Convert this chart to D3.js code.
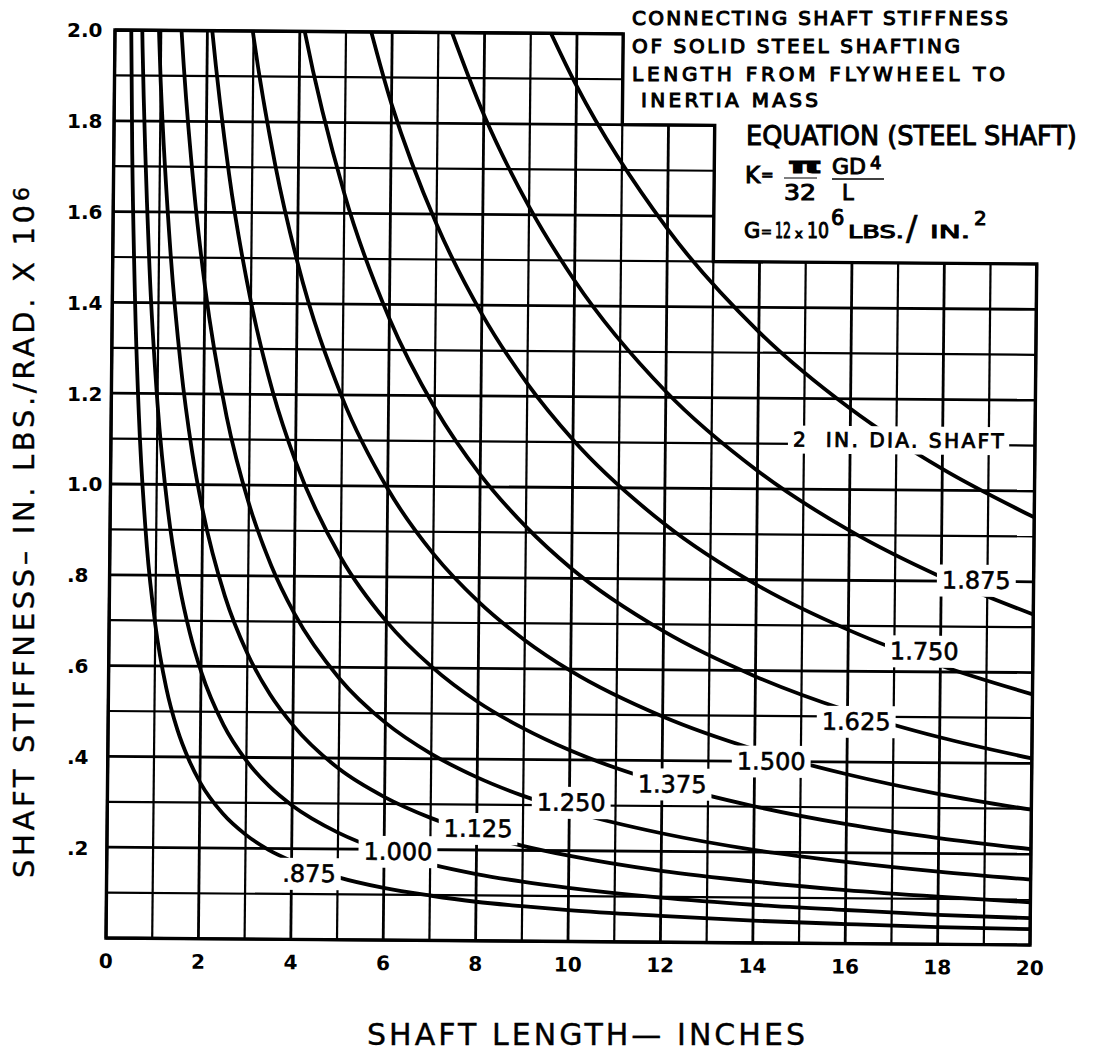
<!DOCTYPE html>
<html>
<head>
<meta charset="utf-8">
<script src="https://cdn.jsdelivr.net/npm/d3@7"></script>
<style>
body { margin:0; background:#fff; }
text { font-family:"DejaVu Sans", sans-serif; fill:#000; }
</style>
</head>
<body>
<svg></svg>
<script>
// shaft length (in.) at which the stiffness was read
var lengths = [0.3, 0.4, 0.5, 0.6, 0.8, 1, 1.25, 1.5, 1.75, 2, 2.5, 3, 3.5, 4, 5, 6, 7, 8, 9, 10, 12, 14, 16, 18, 20]

// stiffness (in.lbs./rad. x 10^6) per shaft diameter, null = off the chart
var d875  = [2.302, 1.727, 1.381, 1.151, 0.863, 0.691, 0.552, 0.460, 0.395, 0.345, 0.276, 0.230, 0.197, 0.173, 0.138, 0.115, 0.099, 0.086, 0.077, 0.069, 0.058, 0.049, 0.043, 0.038, 0.035]
var d1000 = [null, null, 2.356, 1.964, 1.473, 1.178, 0.942, 0.785, 0.673, 0.589, 0.471, 0.393, 0.337, 0.295, 0.236, 0.196, 0.168, 0.147, 0.131, 0.118, 0.098, 0.084, 0.074, 0.065, 0.059]
var d1125 = [null, null, null, null, 2.359, 1.887, 1.510, 1.258, 1.078, 0.944, 0.755, 0.629, 0.539, 0.472, 0.377, 0.315, 0.270, 0.236, 0.210, 0.189, 0.157, 0.135, 0.118, 0.105, 0.094]
var d1250 = [null, null, null, null, null, null, 2.301, 1.917, 1.644, 1.438, 1.150, 0.959, 0.822, 0.719, 0.575, 0.479, 0.411, 0.360, 0.320, 0.288, 0.240, 0.205, 0.180, 0.160, 0.144]
var d1375 = [null, null, null, null, null, null, null, null, 2.406, 2.106, 1.684, 1.404, 1.203, 1.053, 0.842, 0.702, 0.602, 0.526, 0.468, 0.421, 0.351, 0.301, 0.263, 0.234, 0.211]
var d1500 = [null, null, null, null, null, null, null, null, null, null, 2.386, 1.988, 1.704, 1.491, 1.193, 0.994, 0.852, 0.746, 0.663, 0.596, 0.497, 0.426, 0.373, 0.331, 0.298]
var d1625 = [null, null, null, null, null, null, null, null, null, null, null, null, 2.347, 2.054, 1.643, 1.369, 1.174, 1.027, 0.913, 0.821, 0.685, 0.587, 0.513, 0.456, 0.411]
var d1750 = [null, null, null, null, null, null, null, null, null, null, null, null, null, null, 2.210, 1.842, 1.578, 1.381, 1.228, 1.105, 0.921, 0.789, 0.691, 0.614, 0.552]
var d1875 = [null, null, null, null, null, null, null, null, null, null, null, null, null, null, null, null, 2.080, 1.820, 1.618, 1.456, 1.213, 1.040, 0.910, 0.809, 0.728]
var d2000 = [null, null, null, null, null, null, null, null, null, null, null, null, null, null, null, null, null, null, 2.094, 1.885, 1.571, 1.346, 1.178, 1.047, 0.942]

var curveNames = [".875", "1.000", "1.125", "1.250", "1.375", "1.500", "1.625", "1.750", "1.875", "2  IN. DIA. SHAFT"]
var curveValues = [d875, d1000, d1125, d1250, d1375, d1500, d1625, d1750, d1875, d2000]
// where each curve name sits on the chart (length, stiffness)
var labelAt = [[4.38,0.146],[6.30,0.196],[8.03,0.248],[10.04,0.307],[12.22,0.349],[14.36,0.401],[16.19,0.490],[17.65,0.646],[18.76,0.803],[17.04,1.110]]

var xTicks = [0, 2, 4, 6, 8, 10, 12, 14, 16, 18, 20]
var yTicks = [0.2, 0.4, 0.6, 0.8, 1.0, 1.2, 1.4, 1.6, 1.8, 2.0]
var yTickLabels = [".2", ".4", ".6", ".8", "1.0", "1.2", "1.4", "1.6", "1.8", "2.0"]

var titleLines = ["CONNECTING SHAFT STIFFNESS", "OF SOLID STEEL SHAFTING", "LENGTH FROM FLYWHEEL TO", "INERTIA MASS"]

var screen = {width:1093, height:1055}
var plotSize = {width:922, height:908}

var svg = d3.select("svg")
    .attr("width", screen.width)
    .attr("height", screen.height)

svg.append("rect").attr("width", screen.width).attr("height", screen.height).attr("fill", "#fff")

// the scanned sheet is a little skewed, so the plot sits in a tilted frame
var plot = svg.append("g")
    .attr("transform", "matrix(1.00217,0.00759,-0.00991,1,115,30)")

var xScale = d3.scaleLinear().domain([0,20]).range([0, plotSize.width])
var yScale = d3.scaleLinear().domain([0,2]).range([plotSize.height, 0])

var topAt = function(x) { return x <= 11 ? 2.0 : (x <= 13 ? 1.8 : 1.5) }
var rightAt = function(y) { return y <= 1.5001 ? 20 : (y <= 1.8001 ? 13 : 11) }

// grid
var grid = plot.append("g").attr("stroke", "#000").attr("fill", "none")
grid.selectAll(".vx")
    .data(xScale.ticks(20))
    .enter()
    .append("line")
    .attr("x1", function(d){ return xScale(d) })
    .attr("x2", function(d){ return xScale(d) })
    .attr("y1", yScale(0))
    .attr("y2", function(d){ return yScale(topAt(d)) })
    .attr("stroke-width", function(d){ return d % 2 == 0 ? 2.8 : 2.2 })

grid.selectAll(".hy")
    .data(yScale.ticks(20))
    .enter()
    .append("line")
    .attr("x1", xScale(0))
    .attr("x2", function(d){ return xScale(rightAt(d)) })
    .attr("y1", function(d){ return yScale(d) })
    .attr("y2", function(d){ return yScale(d) })
    .attr("stroke-width", function(d){ return Math.round(d*10) % 2 == 0 ? 2.8 : 2.2 })

// outline
var outline = [[0,0],[0,2],[11,2],[11,1.8],[13,1.8],[13,1.5],[20,1.5],[20,0]]
plot.append("path")
    .attr("d", d3.line().x(function(d){ return xScale(d[0]) }).y(function(d){ return yScale(d[1]) })(outline) + "Z")
    .attr("fill", "none")
    .attr("stroke", "#000")
    .attr("stroke-width", 3.4)

// curves
plot.append("clipPath").attr("id", "clip")
    .append("rect").attr("x", 0).attr("y", 0).attr("width", plotSize.width).attr("height", plotSize.height)

var line = d3.line()
    .x(function(d){ return xScale(d[0]) })
    .y(function(d){ return yScale(d[1]) })
    .curve(d3.curveMonotoneX)

var curves = plot.append("g").attr("clip-path", "url(#clip)")
curveValues.forEach(function(vals)
{
    var pts = lengths.map(function(L, i){ return [L, vals[i]] })
                     .filter(function(d){ return d[1] != null })
    curves.append("path")
        .attr("d", line(pts))
        .attr("fill", "none")
        .attr("stroke", "#000")
        .attr("stroke-width", 3.8)
})

// curve names on white patches
curveNames.forEach(function(name, i)
{
    var g = plot.append("g")
        .attr("transform", "translate(" + xScale(labelAt[i][0]) + "," + yScale(labelAt[i][1]) + ")")
    var big = i < 9
    var t = g.append("text")
        .attr("text-anchor", "middle")
        .attr("y", big ? 8.7 : 7.3)
        .attr("font-size", big ? 24 : 20)
        .attr("stroke", "#000")
        .attr("stroke-width", big ? 0.6 : 0.9)
        .style("white-space", "pre")
        .text(name)
    if (!big) t.attr("textLength", 210).attr("lengthAdjust", "spacing").attr("x", 0)
    var b = t.node().getBBox()
    g.insert("rect", "text")
        .attr("x", b.x - 5).attr("y", b.y - 2)
        .attr("width", b.width + 10).attr("height", b.height + 4)
        .attr("fill", "#fff")
})

// x tick labels
plot.selectAll(".xl")
    .data(xTicks)
    .enter()
    .append("text")
    .attr("x", function(d){ return xScale(d) })
    .attr("y", plotSize.height + 30)
    .attr("text-anchor", "middle")
    .attr("font-size", 20)
    .attr("font-weight", "bold")
    .text(function(d){ return d })

// y tick labels
svg.append("g").attr("transform", "translate(0,30)")
    .selectAll("text")
    .data(yTicks)
    .enter()
    .append("text")
    .attr("x", 67)
    .attr("y", function(d){ return yScale(d) + 7.3 })
    .attr("font-size", 20)
    .attr("font-weight", "bold")
    .text(function(d, i){ return yTickLabels[i] })

// axis titles
svg.append("text")
    .attr("transform", "translate(34,878) rotate(-90)")
    .attr("font-size", 29)
    .attr("stroke", "#000").attr("stroke-width", 0.4)
    .attr("textLength", 673)
    .attr("lengthAdjust", "spacing")
    .text("SHAFT STIFFNESS\u2013 IN. LBS./RAD. X 10")
svg.append("text")
    .attr("transform", "translate(34,878) rotate(-90)")
    .attr("x", 677).attr("y", -5)
    .attr("font-size", 22)
    .attr("stroke", "#000").attr("stroke-width", 0.4)
    .text("6")

svg.append("text")
    .attr("x", 367).attr("y", 1045)
    .attr("font-size", 30)
    .attr("stroke", "#000").attr("stroke-width", 0.4)
    .attr("textLength", 438)
    .attr("lengthAdjust", "spacing")
    .text("SHAFT  LENGTH\u2014 INCHES")

// title block
var titleX = [632, 632, 632, 641]
var titleY = [25, 53, 81, 107]
var titleW = [376, 328, 373, 177]
titleLines.forEach(function(s, i)
{
    svg.append("text")
        .attr("x", titleX[i]).attr("y", titleY[i])
        .attr("font-size", 20)
        .attr("stroke", "#000").attr("stroke-width", 1.1)
        .attr("textLength", titleW[i])
        .attr("lengthAdjust", "spacing")
        .text(s)
})

// equation, each piece squeezed to the width it has on the sheet
var eq = svg.append("g").attr("stroke", "#000").attr("stroke-width", 1)
var piece = function(s, x, y, size, w)
{
    var t = eq.append("text").attr("font-size", size).text(s)
    var sx = 1
    if (w) sx = w / t.node().getComputedTextLength()
    t.attr("transform", "translate(" + x + "," + y + ") scale(" + sx + ",1)")
    return t
}
piece("EQUATION (STEEL SHAFT)", 746, 145, 26, 331)
piece("K", 745, 183, 23)
piece("=", 761, 180, 15)
piece("\u03c0", 788, 173, 22, 26).attr("font-weight", "bold")
eq.append("line").attr("x1", 784).attr("x2", 817).attr("y1", 178).attr("y2", 178).attr("stroke-width", 1.2)
piece("32", 784, 200, 21, 32)
piece("GD", 832, 174, 21, 34)
piece("4", 870, 169, 18)
eq.append("line").attr("x1", 832).attr("x2", 884).attr("y1", 179).attr("y2", 179).attr("stroke-width", 1.5)
piece("L", 842, 200, 21)

piece("G", 744, 238, 21)
piece("=", 761, 236, 13)
piece("12", 775, 238, 21, 16)
piece("x", 795, 238, 13)
piece("10", 807, 238, 21, 22)
piece("6", 831, 225, 21)
piece("LBS.", 848, 238, 18, 56)
piece("/", 906, 240, 34).attr("stroke-width", 0.6)
piece("IN.", 930, 238, 18, 40)
piece("2", 974, 225, 20)
</script>
</body>
</html>
